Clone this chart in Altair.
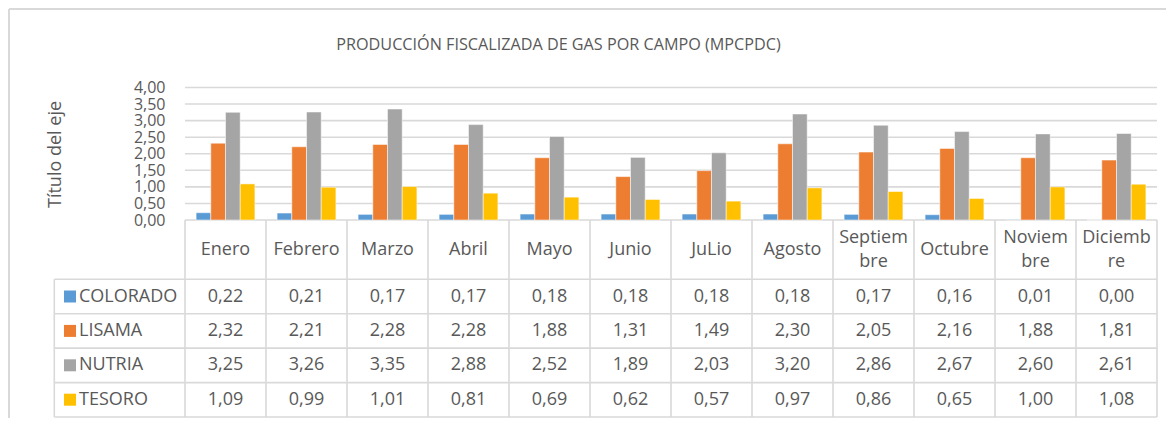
import altair as alt
import pandas as pd

# ---------------- data ----------------
months = ["Enero", "Febrero", "Marzo", "Abril", "Mayo", "Junio", "JuLio",
          "Agosto", "Septiembre", "Octubre", "Noviembre", "Diciembre"]
month_labels = ["Enero", "Febrero", "Marzo", "Abril", "Mayo", "Junio", "JuLio",
                "Agosto", "Septiem\nbre", "Octubre", "Noviem\nbre", "Diciemb\nre"]
series = ["COLORADO", "LISAMA", "NUTRIA", "TESORO"]
colorado = [0.22, 0.21, 0.17, 0.17, 0.18, 0.18, 0.18, 0.18, 0.17, 0.16, 0.01, 0.00]
lisama = [2.32, 2.21, 2.28, 2.28, 1.88, 1.31, 1.49, 2.30, 2.05, 2.16, 1.88, 1.81]
nutria = [3.25, 3.26, 3.35, 2.88, 2.52, 1.89, 2.03, 3.20, 2.86, 2.67, 2.60, 2.61]
tesoro = [1.09, 0.99, 1.01, 0.81, 0.69, 0.62, 0.57, 0.97, 0.86, 0.65, 1.00, 1.08]
y_ticks = [0, 0.5, 1, 1.5, 2, 2.5, 3, 3.5, 4]
colors = ["#5B9BD5", "#ED7D31", "#A5A5A5", "#FFC000"]
chart_title = "PRODUCCIÓN FISCALIZADA DE GAS POR CAMPO (MPCPDC)"
y_title = "Título del eje"

# ---------------- tables ----------------
values = {"COLORADO": colorado, "LISAMA": lisama, "NUTRIA": nutria, "TESORO": tesoro}
long = pd.DataFrame([
    {"mes": m, "serie": s, "valor": values[s][i]}
    for s in series for i, m in enumerate(months)
])
header_df = pd.DataFrame({"mes": months, "etiqueta": month_labels, "fila": "hdr"})
header_df["lineas"] = header_df["etiqueta"].str.count("\n") + 1
header_one = header_df[header_df["lineas"] == 1]
header_two = header_df[header_df["lineas"] == 2]
grid_df = pd.DataFrame({"v": y_ticks[1:], "x1": 0, "x2": len(months)})

nm, ns = len(months), len(series)
line_rows = []
# header row: top edge and column separators
line_rows.append({"x1": 0, "x2": nm, "y1": -1, "y2": -1})
for c in range(nm + 1):
    line_rows.append({"x1": c, "x2": c, "y1": -1, "y2": ns})
# body rows (including label column)
for r in range(ns + 1):
    line_rows.append({"x1": -1, "x2": nm, "y1": r, "y2": r})
line_rows.append({"x1": -1, "x2": -1, "y1": 0, "y2": ns})
lines_df = pd.DataFrame(line_rows)
frame_df = pd.DataFrame([
    {"x1": -2, "x2": -2, "y1": -2, "y2": ns + 1},
    {"x1": -2, "x2": nm + 1, "y1": -2, "y2": -2},
])

# ---------------- scales / styles ----------------
W, H = 1158, 410
TXT = "#595959"
FONT = "Open Sans"
LINE = "#D9D9D9"

def xm():
    return alt.Scale(type="band", domain=months, range=[177, 1149],
                     paddingInner=0, paddingOuter=0)

def yb():
    return alt.Scale(domain=[0, 4], range=[212, 79.5], zero=False, nice=False)

def xt():
    return alt.Scale(type="linear", domain=[-2, -1, 0, nm, nm + 1],
                     range=[1, 46.3, 177, 1149, W], zero=False, nice=False)

def yt():
    return alt.Scale(type="linear", domain=[-2, -1, 0, ns, ns + 1],
                     range=[1, 212, 271.3, 409, H], zero=False, nice=False)

def yh():
    return alt.Scale(type="band", domain=["hdr"], range=[212, 271.3],
                     paddingInner=0, paddingOuter=0)

frame = alt.Chart(frame_df).mark_rule(color=LINE, strokeWidth=2).encode(
    x=alt.X("x1:Q", scale=xt(), axis=None), x2="x2:Q",
    y=alt.Y("y1:Q", scale=yt(), axis=None), y2="y2:Q",
)

table_lines = alt.Chart(lines_df).mark_rule(color=LINE, strokeWidth=1.6).encode(
    x=alt.X("x1:Q", scale=xt(), axis=None), x2="x2:Q",
    y=alt.Y("y1:Q", scale=yt(), axis=None), y2="y2:Q",
)

gridlines = alt.Chart(grid_df).mark_rule(color=LINE, strokeWidth=1.6).encode(
    x=alt.X("x1:Q", scale=xt(), axis=None), x2="x2:Q",
    y=alt.Y("v:Q", scale=yb(), axis=None),
)

bars = alt.Chart(long).mark_bar(stroke="white", strokeWidth=0.5).encode(
    x=alt.X("mes:N", scale=xm(), axis=None),
    xOffset=alt.XOffset("serie:N", scale=alt.Scale(domain=series, paddingInner=0,
                                                   paddingOuter=0.755)),
    y=alt.Y("valor:Q", scale=yb(), axis=alt.Axis(
        orient="left", values=y_ticks,
        labelExpr="replace(format(datum.value, '.2f'), '.', ',')",
        offset=-177, domain=False, ticks=False, grid=False,
        labelPadding=20, labelFont=FONT, labelFontSize=16, labelColor=TXT,
        labelOverlap=False, labelBound=False,
        title=y_title, titleFont=FONT, titleFontSize=18, titleFontWeight="normal",
        titleColor=TXT, titleX=-130, titleY=146, titleAngle=270,
        titleBaseline="middle", titleAlign="center")),
    color=alt.Color("serie:N", scale=alt.Scale(domain=series, range=colors),
                    legend=alt.Legend(orient="none", legendX=53, legendY=279.5,
                                      title=None, symbolType="square", symbolSize=144,
                                      symbolStrokeWidth=0, labelFont=FONT,
                                      labelFontSize=18, labelColor=TXT, labelOffset=0,
                                      rowPadding=16.4, padding=0, direction="vertical")),
)

header_text_one = alt.Chart(header_one).mark_text(
    font=FONT, fontSize=18, color=TXT, baseline="middle", align="center").encode(
    x=alt.X("mes:N", scale=xm(), axis=None),
    y=alt.Y("fila:N", scale=yh(), axis=None),
    text="etiqueta:N",
)

header_text_two = alt.Chart(header_two).mark_text(
    font=FONT, fontSize=18, color=TXT, lineBreak="\n", lineHeight=24,
    baseline="middle", align="center", dy=-12).encode(
    x=alt.X("mes:N", scale=xm(), axis=None),
    y=alt.Y("fila:N", scale=yh(), axis=None),
    text="etiqueta:N",
)

body_text = alt.Chart(long).transform_calculate(
    etiqueta="replace(format(datum.valor, '.2f'), '.', ',')"
).mark_text(font=FONT, fontSize=18, color=TXT, baseline="middle", align="center").encode(
    x=alt.X("mes:N", scale=xm(), axis=None),
    y=alt.Y("serie:N", scale=alt.Scale(type="band", domain=series, range=[271.3, 409],
                                       paddingInner=0, paddingOuter=0), axis=None),
    text="etiqueta:N",
)

chart = alt.layer(
    frame, table_lines, gridlines, bars, header_text_one, header_text_two, body_text
).resolve_scale(
    x="independent", y="independent"
).properties(
    width=W, height=H,
    autosize=alt.AutoSizeParams(type="none"),
    padding=0,
    title=alt.TitleParams(chart_title, font=FONT, fontSize=16.2, fontWeight="normal",
                          color=TXT, anchor="middle", frame="group", offset=0,
                          dx=-28.5, dy=58, baseline="alphabetic"),
).configure_view(stroke=None)

chart.save("out.html", embed_options={"renderer": "svg", "actions": False})
